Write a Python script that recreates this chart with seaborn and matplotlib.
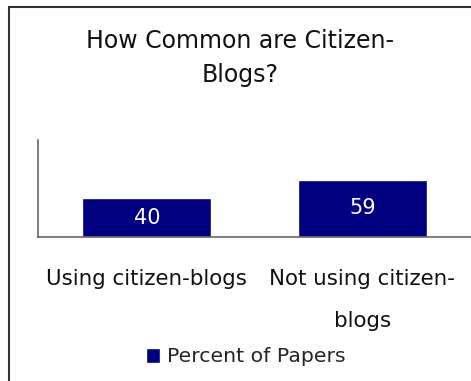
import matplotlib
matplotlib.use("Agg")
import matplotlib.pyplot as plt
from matplotlib.patches import Rectangle
import seaborn as sns
import pandas as pd

# Survey results: share of newspapers using citizen blogs
categories = ["Using citizen-blogs", "Not using citizen-\nblogs"]
percent_of_papers = [40, 59]
series_name = "Percent of Papers"
title = "How Common are Citizen-\nBlogs?"

df = pd.DataFrame({"category": categories, "value": percent_of_papers})

sns.set_theme(style="white")
plt.rcParams["font.family"] = ["DejaVu Sans"]

BAR_COLOR = "#000080"

fig = plt.figure(figsize=(4.71, 3.81), dpi=100)
ax = fig.add_axes([38 / 471, 1 - 237 / 381, 433 / 471, 97 / 381])

sns.barplot(data=df, x="category", y="value", color=BAR_COLOR, width=0.6,
            saturation=1, label=series_name, ax=ax)

ax.set_ylim(0, 100)
ax.set_xlim(-0.505, 1.505)
ax.set_xlabel("")
ax.set_ylabel("")
ax.set_yticks([])
ax.tick_params(axis="x", length=0, pad=23, labelsize=15.4)
for lbl in ax.get_xticklabels():
    lbl.set_linespacing(2.35)
    lbl.set_color("#111111")

sns.despine(ax=ax, top=True, right=True)
for side in ("left", "bottom"):
    ax.spines[side].set_color("#666666")
    ax.spines[side].set_linewidth(1.2)

ax.bar_label(ax.containers[0], label_type="center", color="white", fontsize=15)

# Chart title
fig.text(240 / 471, 1 - 58 / 381, title, ha="center", va="center",
         fontsize=17, fontweight="normal", linespacing=1.55, color="#111111")

# Legend below the category labels
handles, labels = ax.get_legend_handles_labels()
fig.legend(handles, labels, loc="center", bbox_to_anchor=(246 / 471, 1 - 357 / 381),
           frameon=False, fontsize=14.7, handlelength=0.7, handleheight=0.75,
           handletextpad=0.35, borderpad=0)
if ax.get_legend() is not None:
    ax.get_legend().remove()

# Outer chart frame
fig.patches.append(Rectangle((8.5 / 471, -0.1), 1.2, 1 - 6.5 / 381 + 0.1,
                             transform=fig.transFigure, fill=False,
                             edgecolor="#333333", linewidth=1.5))

fig.savefig("out.png", dpi=100)
